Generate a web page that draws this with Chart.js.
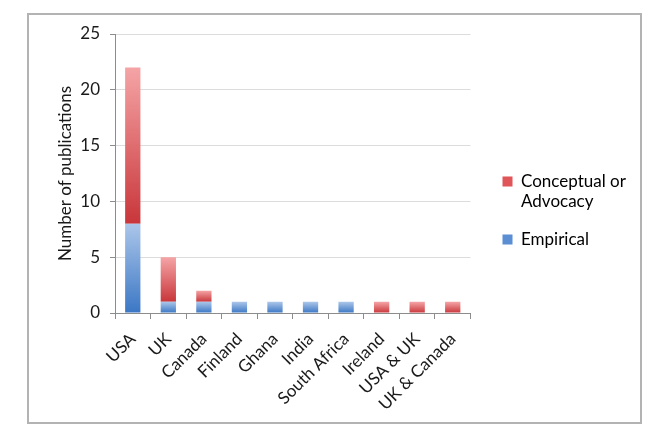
<!DOCTYPE html>
<html>
<head>
<meta charset="utf-8">
<script src="https://cdn.jsdelivr.net/npm/chart.js@4"></script>
<style>
  body { margin: 0; background: #fff; }
  #wrap { position: relative; width: 666px; height: 437px; }
  #frame { position: absolute; left: 27px; top: 13px; width: 615px; height: 411px;
           box-sizing: border-box; border: 2px solid #b3b3b3; pointer-events: none; }
</style>
</head>
<body>
<div id="wrap">
  <canvas id="pubChart" width="666" height="437"></canvas>
  <div id="frame"></div>
</div>
<script>
var countries = ['USA', 'UK', 'Canada', 'Finland', 'Ghana', 'India', 'South Africa', 'Ireland', 'USA & UK', 'UK & Canada'];
var empirical = [8, 1, 1, 1, 1, 1, 1, 0, 0, 0];
var conceptual = [14, 4, 1, 0, 0, 0, 0, 1, 1, 1];
var yTicks = [0, 5, 10, 15, 20, 25];

var fontName = 'Lato';

// vertical gradient per bar segment, dark at the bottom, light at the top
function segmentFill(context, dark, light) {
    var chart = context.chart;
    var y = chart.scales.y;
    if (!y || context.type !== 'data') return dark;
    var i = context.dataIndex;
    var start = context.datasetIndex === 0 ? 0 : empirical[i];
    var end = context.datasetIndex === 0 ? empirical[i] : empirical[i] + conceptual[i];
    var p0 = y.getPixelForValue(start);
    var p1 = y.getPixelForValue(end);
    if (!isFinite(p0) || !isFinite(p1) || p0 === p1) return dark;
    var g = chart.ctx.createLinearGradient(0, p0, 0, p1);
    g.addColorStop(0, dark);
    g.addColorStop(1, light);
    return g;
}

// nudge the legend a bit away from the plot, and up (keep room for the text)
var legendNudge = {
    id: 'legendNudge',
    afterLayout: function (chart) {
        var l = chart.legend;
        l.left += 15;
        l.right = chart.width;
        l.width = l.right - l.left;
        l.top -= 25; l.bottom -= 25;
    }
};

var ctx = document.getElementById('pubChart').getContext('2d');
new Chart(ctx, {
    type: 'bar',
    data: {
        labels: countries,
        datasets: [{
            label: 'Empirical',
            data: empirical,
            backgroundColor: function (c) { return segmentFill(c, '#3b77c5', '#abc6e9'); },
            legendColor: '#5b8ed3'
        }, {
            label: ['Conceptual or', 'Advocacy'],
            data: conceptual,
            backgroundColor: function (c) { return segmentFill(c, '#c8363a', '#f5a4a6'); },
            legendColor: '#df5558'
        }]
    },
    plugins: [legendNudge],
    options: {
        responsive: false,
        animation: false,
        layout: { padding: { left: 55, top: 34, right: 57, bottom: 0 } },
        datasets: { bar: { categoryPercentage: 1, barPercentage: 0.43 } },
        plugins: {
            tooltip: { enabled: false },
            legend: {
                position: 'right',
                reverse: true,
                labels: {
                    font: { family: fontName, size: 17 },
                    color: '#1a1a1a',
                    boxWidth: 10,
                    boxHeight: 10,
                    padding: 17,
                    generateLabels: function (chart) {
                        return chart.data.datasets.map(function (ds, i) {
                            return {
                                text: ds.label,
                                fillStyle: ds.legendColor,
                                strokeStyle: ds.legendColor,
                                lineWidth: 0,
                                datasetIndex: i,
                                hidden: false
                            };
                        });
                    }
                }
            }
        },
        scales: {
            x: {
                stacked: true,
                afterFit: function (s) { s.height = 124; },
                grid: { drawOnChartArea: false, drawTicks: true, tickLength: 6, tickColor: '#8c8c8c', offset: true },
                border: { color: '#8c8c8c', width: 1 },
                ticks: {
                    font: { family: fontName, size: 17 },
                    color: '#1a1a1a',
                    minRotation: 45,
                    maxRotation: 45,
                    autoSkip: false,
                    padding: 10
                }
            },
            y: {
                stacked: true,
                min: 0,
                max: 25,
                afterFit: function (s) { s.width = 60; },
                afterBuildTicks: function (s) { s.ticks = yTicks.map(function (v) { return { value: v }; }); },
                grid: { color: '#dcdcdc', tickColor: '#8c8c8c', tickLength: 5 },
                border: { color: '#8c8c8c', width: 1 },
                ticks: {
                    font: { family: fontName, size: 17 },
                    color: '#1a1a1a',
                    padding: 10
                },
                title: {
                    display: true,
                    text: 'Number of publications',
                    font: { family: fontName, size: 17 },
                    color: '#1a1a1a',
                    padding: 0
                }
            }
        }
    }
});
</script>
</body>
</html>
